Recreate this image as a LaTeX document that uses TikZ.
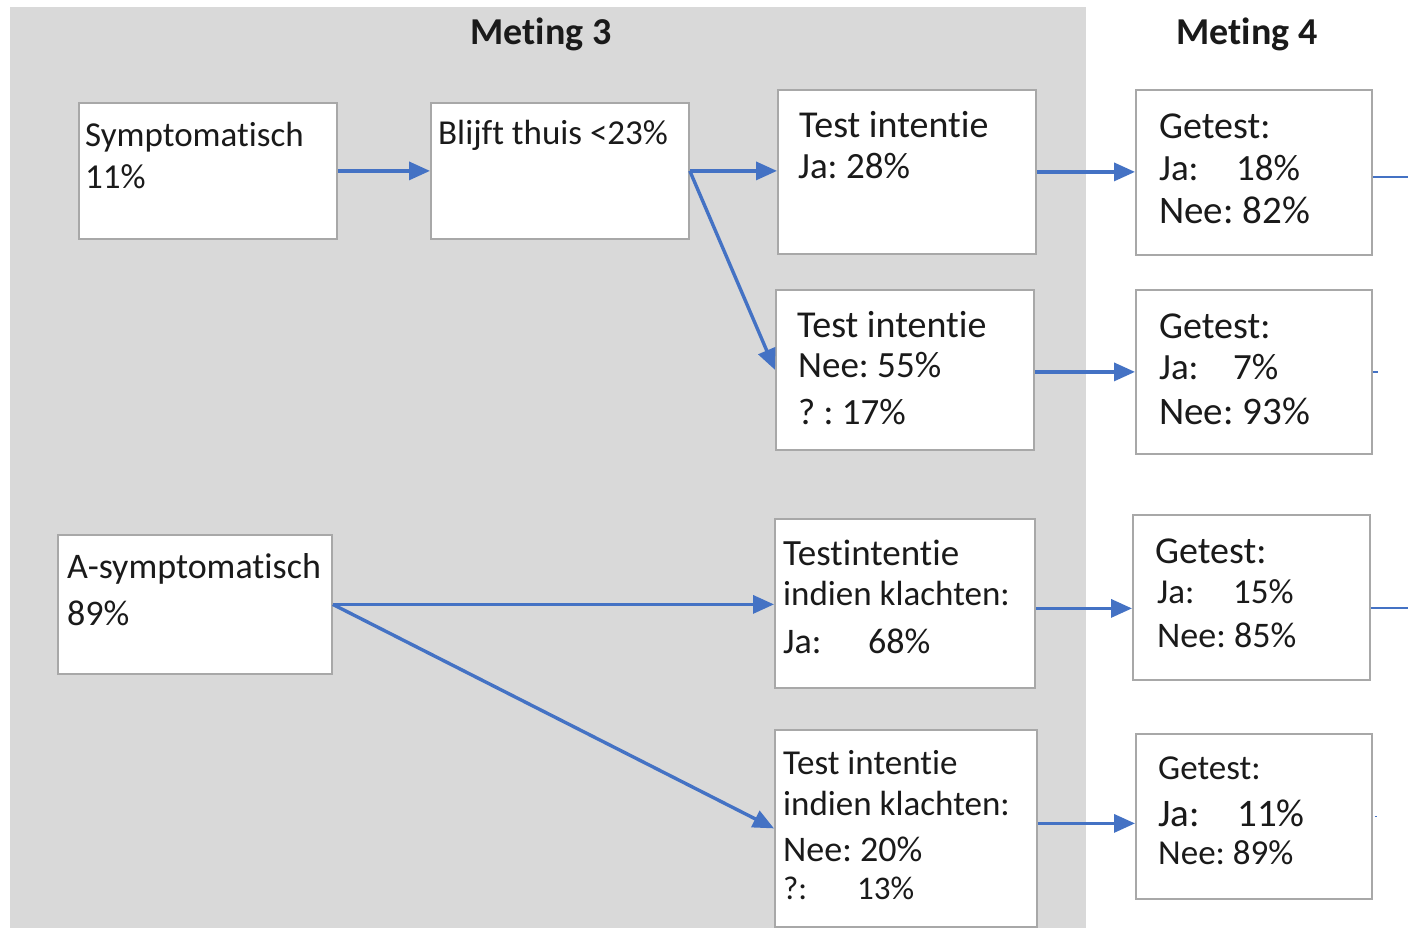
\documentclass[tikz,border=0pt]{standalone}
\usepackage{fontspec}
\setmainfont{Carlito}[RawFeature={-liga;-clig;-calt;-dlig}]
\usetikzlibrary{arrows.meta}
\definecolor{bggray}{HTML}{D9D9D9}
\definecolor{boxline}{HTML}{A8A8A8}
\definecolor{arrblue}{HTML}{4472C4}
\definecolor{txtcol}{HTML}{1A1A1A}
\newcommand{\fs}[1]{\fontsize{#1}{#1}\selectfont\frenchspacing}
\tikzset{
  boxnode/.style={draw=boxline, fill=white, line width=1.8pt, rectangle, inner sep=0pt, anchor=north west},
  txt/.style={inner sep=0pt, anchor=base west, text=txtcol, font=\fs{35}},
  heading/.style={inner sep=0pt, anchor=base, text=txtcol, font=\fs{38}\bfseries},
  arr/.style={draw=arrblue, line width=3.4pt, -{Triangle[length=21pt,width=18pt]}},
  stub/.style={draw=arrblue, line width=2pt}
}
\begin{document}
\begin{tikzpicture}[x=1pt,y=-1pt]
\useasboundingbox (0,0) rectangle (1408,928);
\fill[white] (0,0) rectangle (1408,928);
\fill[bggray] (10,7) rectangle (1086,928);

\node[heading] (m3) at (541,45) {Meting 3};
\node[heading] (m4) at (1247,45) {Meting 4};

% boxes
\node[boxnode, minimum width=258pt, minimum height=136pt] (s) at (78,102) {};
\node[boxnode, minimum width=258pt, minimum height=136pt] (b) at (430,102) {};
\node[boxnode, minimum width=258pt, minimum height=164pt] (tj) at (777,89) {};
\node[boxnode, minimum width=258pt, minimum height=160pt] (tn) at (775,289) {};
\node[boxnode, minimum width=274pt, minimum height=139pt] (a) at (57,534) {};
\node[boxnode, minimum width=260pt, minimum height=169pt] (kj) at (774,518) {};
\node[boxnode, minimum width=262pt, minimum height=197pt] (kn) at (774,729) {};
\node[boxnode, minimum width=236pt, minimum height=165pt] (g1) at (1135,89) {};
\node[boxnode, minimum width=236pt, minimum height=164pt] (g2) at (1135,289) {};
\node[boxnode, minimum width=237pt, minimum height=165pt] (g3) at (1132,514) {};
\node[boxnode, minimum width=236pt, minimum height=165pt] (g4) at (1135,733) {};

% texts
\node[txt] (s1) at (85,147) {Symptomatisch};
\node[txt] (s2) at (85,189) {11\%};
\node[txt] (b1) at (438,145) {Blijft thuis <23\%};
\node[txt, font=\fs{38}] (tj1) at (799,138) {Test intentie};
\node[txt, font=\fs{37}] (tj2) at (798,179) {Ja: 28\%};
\node[txt, font=\fs{38}] (tn1) at (797,337) {Test intentie};
\node[txt, font=\fs{37}] (tn2) at (798,377) {Nee: 55\%};
\node[txt, font=\fs{37}] (tn3) at (798,424) {? : 17\%};
\node[txt, font=\fs{36}] (a1) at (67,578) {A-symptomatisch};
\node[txt, font=\fs{36}] (a2) at (67,625) {89\%};
\node[txt, font=\fs{37}] (kj1) at (783,565) {Testintentie};
\node[txt] (kj2) at (783,605) {indien klachten:};
\node[txt, font=\fs{36}] (kj3) at (783,653) {\makebox[85pt][l]{Ja:}68\%};
\node[txt] (kn1) at (783,774) {Test intentie};
\node[txt] (kn2) at (783,815) {indien klachten:};
\node[txt, font=\fs{36}] (kn3) at (783,861) {Nee: 20\%};
\node[txt, font=\fs{33}] (kn4) at (783,899) {\makebox[74pt][l]{?:}13\%};
\node[txt, font=\fs{38}] (g11) at (1159,139) {Getest:};
\node[txt, font=\fs{37}] (g12) at (1159,181) {\makebox[77pt][l]{Ja:}18\%};
\node[txt, font=\fs{39}] (g13) at (1159,224) {Nee: 82\%};
\node[txt, font=\fs{38}] (g21) at (1159,338) {Getest:};
\node[txt, font=\fs{37}] (g22) at (1159,379) {\makebox[74pt][l]{Ja:}7\%};
\node[txt, font=\fs{39}] (g23) at (1159,424) {Nee: 93\%};
\node[txt, font=\fs{38}] (g31) at (1155,563) {Getest:};
\node[txt] (g32) at (1157,603) {\makebox[76pt][l]{Ja:}15\%};
\node[txt, font=\fs{36}] (g33) at (1157,647) {Nee: 85\%};
\node[txt] (g41) at (1158,779) {Getest:};
\node[txt, font=\fs{39}] (g42) at (1158,826) {\makebox[79pt][l]{Ja:}11\%};
\node[txt, font=\fs{35}] (g43) at (1158,864) {Nee: 89\%};

% connectors
\draw[arr] (s.east) -- (s.east -| b.west);
\draw[arr] (b.east) -- (b.east -| tj.west);
\draw[arr] (b.east) -- (tn.west);
\draw[arr] (tj.east) -- (tj.east -| g1.west);
\draw[arr] ([yshift=-2pt]tn.east) -- ([yshift=-2pt]tn.east -| g2.west);
\draw[arr] (a.east) -- (a.east -| kj.west);
\draw[arr] (a.east) -- (kn.west);
\draw[arr] ([yshift=-5pt]kj.east) -- ([yshift=-5pt]kj.east -| g3.west);
\draw[arr] ([yshift=5pt]kn.east) -- ([yshift=5pt]kn.east -| g4.west);

\coordinate (e1) at ([xshift=40pt,yshift=-5pt]g1.east);
\coordinate (e2) at ([xshift=5pt]g2.east);
\coordinate (e3) at ([xshift=40pt,yshift=-11pt]g3.east);
\coordinate (e4) at ([xshift=4pt]g4.east);
\draw[stub] ([yshift=-5pt]g1.east) -- (e1);
\draw[stub, line width=1.5pt] (g2.east) -- (e2);
\draw[stub] ([yshift=-11pt]g3.east) -- (e3);
\draw[stub, line width=1.2pt] ([xshift=2pt]g4.east) -- (e4);
\end{tikzpicture}
\end{document}
